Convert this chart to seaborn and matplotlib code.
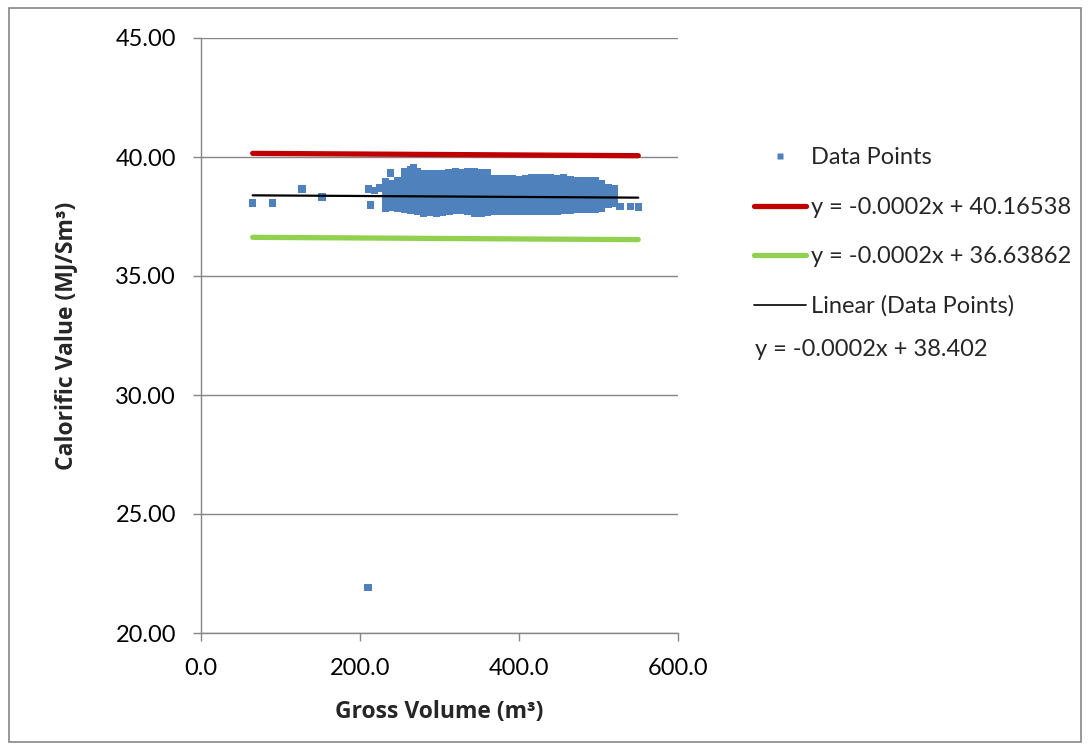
import matplotlib
matplotlib.use("Agg")
import matplotlib.pyplot as plt
from matplotlib.lines import Line2D
from matplotlib.patches import Rectangle
import seaborn as sns
import pandas as pd

# ---------------- data ----------------
# isolated points (Gross Volume, Calorific Value)
outlier_vol = [65, 90, 127, 152, 210, 211, 218, 225, 213, 238, 267, 527, 540, 550]
outlier_cv = [38.07, 38.07, 38.65, 38.32, 21.9, 38.65, 38.60, 38.70, 37.98, 39.33, 39.56, 37.92, 37.92, 37.90]

# dense cluster, read column by column
cluster_vol = [232, 240, 248, 256, 264, 272, 280, 288, 296, 304, 312, 320, 328, 336,
               344, 352, 360, 368, 376, 384, 392, 400, 408, 416, 424, 432, 440, 448,
               456, 464, 472, 480, 488, 496, 504, 512, 520]
cluster_cv = [
    [37.85, 38.10, 38.35, 38.60, 38.85, 38.95],
    [37.88, 38.12, 38.38, 38.62, 38.88],
    [37.85, 38.10, 38.35, 38.60, 38.85, 39.00],
    [37.80, 38.05, 38.30, 38.55, 38.80, 39.05, 39.30, 39.38],
    [37.75, 38.00, 38.25, 38.50, 38.75, 39.00, 39.25, 39.45],
    [37.72, 37.98, 38.22, 38.48, 38.72, 38.98, 39.22, 39.40],
    [37.65, 37.90, 38.15, 38.40, 38.65, 38.90, 39.15, 39.30],
    [37.68, 37.92, 38.18, 38.42, 38.68, 38.92, 39.18, 39.30],
    [37.65, 37.90, 38.15, 38.40, 38.65, 38.90, 39.15, 39.30],
    [37.68, 37.92, 38.18, 38.42, 38.68, 38.92, 39.18, 39.32],
    [37.70, 37.95, 38.20, 38.45, 38.70, 38.95, 39.20, 39.35],
    [37.75, 38.00, 38.25, 38.50, 38.75, 39.00, 39.25, 39.40],
    [37.75, 37.98, 38.22, 38.48, 38.72, 38.98, 39.22, 39.35],
    [37.70, 37.95, 38.20, 38.45, 38.70, 38.95, 39.20, 39.40],
    [37.65, 37.92, 38.18, 38.42, 38.68, 38.92, 39.18, 39.40],
    [37.65, 37.90, 38.15, 38.40, 38.65, 38.90, 39.15, 39.35],
    [37.68, 37.92, 38.18, 38.42, 38.68, 38.92, 39.18, 39.35],
    [37.70, 37.95, 38.20, 38.45, 38.70, 38.95, 39.10],
    [37.72, 37.98, 38.22, 38.48, 38.72, 38.98, 39.10],
    [37.70, 37.95, 38.20, 38.45, 38.70, 38.95, 39.10],
    [37.72, 37.98, 38.22, 38.48, 38.72, 38.98, 39.10],
    [37.70, 37.95, 38.20, 38.45, 38.70, 38.95, 39.05],
    [37.72, 37.98, 38.22, 38.48, 38.72, 38.98, 39.10],
    [37.70, 37.95, 38.20, 38.45, 38.70, 38.95, 39.15],
    [37.72, 37.98, 38.22, 38.48, 38.72, 38.98, 39.15],
    [37.70, 37.95, 38.20, 38.45, 38.70, 38.95, 39.15],
    [37.72, 37.98, 38.22, 38.48, 38.72, 38.98, 39.15],
    [37.70, 37.95, 38.20, 38.45, 38.70, 38.95, 39.10],
    [37.75, 38.00, 38.25, 38.50, 38.75, 39.00, 39.15],
    [37.75, 38.00, 38.25, 38.50, 38.75, 39.00, 39.05],
    [37.80, 38.05, 38.30, 38.55, 38.80, 39.00],
    [37.80, 38.05, 38.30, 38.55, 38.80, 39.00],
    [37.82, 38.08, 38.32, 38.58, 38.82, 39.00],
    [37.80, 38.05, 38.30, 38.55, 38.80, 39.00],
    [37.85, 38.10, 38.35, 38.60, 38.85, 38.90],
    [38.00, 38.25, 38.50, 38.70],
    [38.05, 38.30, 38.55, 38.65],
]

# limit / trend lines (end points)
upper_vol = [65, 550]
upper_cv = [40.152, 40.055]
lower_vol = [65, 550]
lower_cv = [36.625, 36.528]
trend_vol = [65, 550]
trend_cv = [38.389, 38.292]

upper_label = "y = -0.0002x + 40.16538"
lower_label = "y = -0.0002x + 36.63862"
trend_eq = "y = -0.0002x + 38.402"

y_ticks = [20, 25, 30, 35, 40, 45]
x_ticks = [0, 200, 400, 600]

# ---------------- build table ----------------
vols, cvs = list(outlier_vol), list(outlier_cv)
for xv, ys in zip(cluster_vol, cluster_cv):
    for yv in ys:
        vols.append(xv)
        cvs.append(yv)
df = pd.DataFrame({"vol": vols, "cv": cvs})

# ---------------- style ----------------
sns.set_theme(style="white")
plt.rcParams["font.family"] = ["Lato", "DejaVu Sans"]
GREY = "#868686"
FS = 17
BOLD_FAMILY = ["Open Sans", "DejaVu Sans"]

fig = plt.figure(figsize=(10.88, 7.49), dpi=100)
ax = fig.add_axes([201 / 1088, 1 - 633 / 749, (678 - 201) / 1088, (633 - 38) / 749])

sns.lineplot(x=upper_vol, y=upper_cv, ax=ax, color="#C00000", lw=3.8,
             solid_capstyle="round", zorder=2)
sns.lineplot(x=lower_vol, y=lower_cv, ax=ax, color="#92D050", lw=3.8,
             solid_capstyle="round", zorder=2)
sns.scatterplot(data=df, x="vol", y="cv", ax=ax, marker="s", s=28,
                color="#4F81BD", edgecolor="none", linewidth=0, zorder=3)
sns.lineplot(x=trend_vol, y=trend_cv, ax=ax, color="black", lw=1.6, zorder=4)

ax.set_xlim(0, 600)
ax.set_ylim(20, 45)
ax.set_xticks(x_ticks)
ax.set_yticks(y_ticks)
ax.set_xticklabels([f"{v:.1f}" for v in x_ticks], fontsize=FS)
ax.set_yticklabels([f"{v:.2f}" for v in y_ticks], fontsize=FS)
ax.yaxis.grid(True, color=GREY, lw=1.0)
ax.xaxis.grid(False)
ax.set_axisbelow(True)
for s in ["top", "right"]:
    ax.spines[s].set_visible(False)
for s in ["left", "bottom"]:
    ax.spines[s].set_color(GREY)
    ax.spines[s].set_linewidth(1.0)
ax.tick_params(axis="y", which="major", direction="out", length=6, width=1,
               color=GREY, pad=12, labelcolor="black", left=True)
ax.tick_params(axis="x", which="major", direction="out", length=6, width=1,
               color=GREY, pad=12, labelcolor="black", bottom=True)

ax.set_xlabel("Gross Volume (m³)", fontsize=16.5, fontweight="bold",
              family=BOLD_FAMILY, labelpad=15)
ax.set_ylabel("Calorific Value (MJ/Sm³)", fontsize=16.5, fontweight="bold",
              family=BOLD_FAMILY, labelpad=27)

# legend
handles = [
    Line2D([], [], ls="none", marker="s", ms=5, color="#4F81BD", mec="none"),
    Line2D([], [], color="#C00000", lw=3.8, solid_capstyle="round"),
    Line2D([], [], color="#92D050", lw=3.8, solid_capstyle="round"),
    Line2D([], [], color="black", lw=1.2),
]
labels = ["Data Points", upper_label, lower_label, "Linear (Data Points)"]
fig.legend(handles, labels, loc="upper left", bbox_to_anchor=(745 / 1088, 1 - 138 / 749),
           frameon=False, fontsize=FS, handlelength=2.2, handletextpad=0.2,
           labelspacing=1.2, borderaxespad=0)
fig.text(755 / 1088, 1 - 349 / 749, trend_eq, fontsize=FS, va="center", ha="left")

fig.patches.append(Rectangle((9 / 1088, 1 - 742 / 749), (1081 - 9) / 1088, (742 - 8) / 749,
                             transform=fig.transFigure, fill=False, edgecolor=GREY, lw=1.2))

fig.savefig("out.png", dpi=100)
